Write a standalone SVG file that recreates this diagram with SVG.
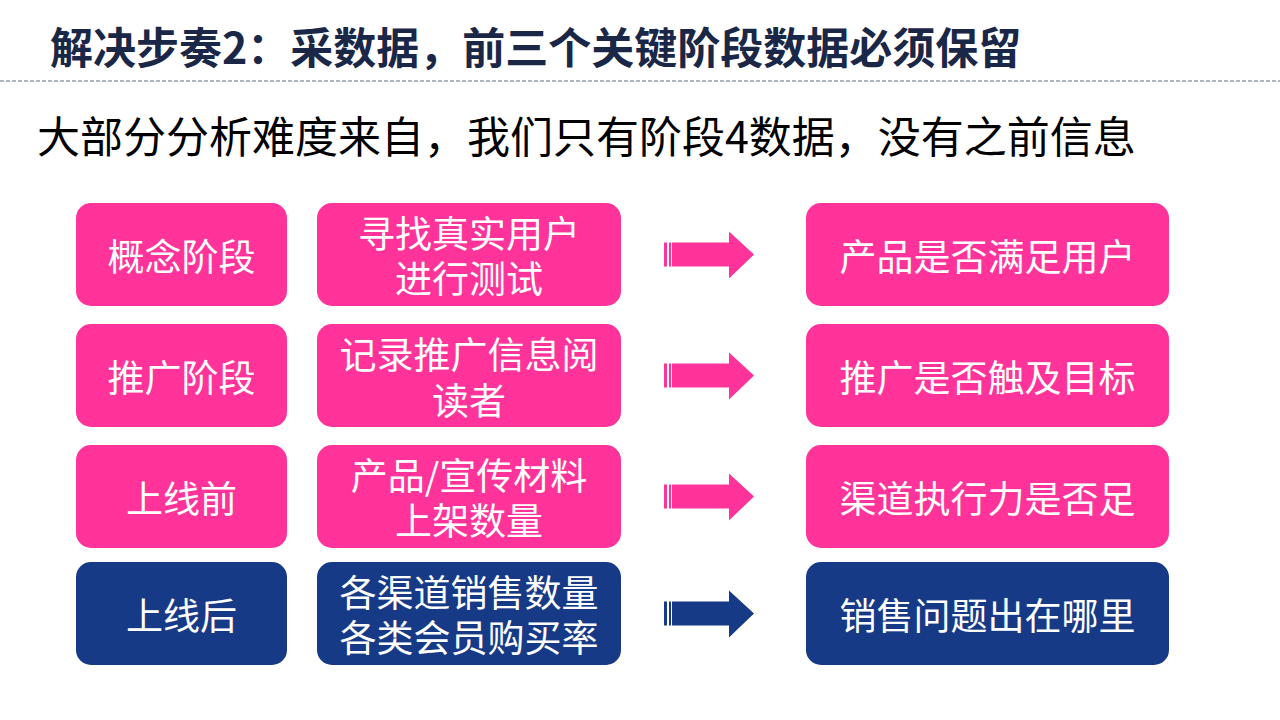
<svg xmlns="http://www.w3.org/2000/svg" width="1280" height="720" viewBox="0 0 1280 720">
<style>
text{font-family:"Noto Sans CJK SC","Noto Sans",sans-serif;}
.title{font-size:43px;font-weight:bold;fill:#1a2747;}
.sub{font-size:43px;fill:#000;}
.pk{fill:#ff3399;}
.nv{fill:#173a87;}
.lbl{font-size:37px;fill:#fff;text-anchor:middle;dominant-baseline:central;}
</style>
<rect width="1280" height="720" fill="#fff"/>
<text class="title" x="50" y="64">解决步奏2：采数据，前三个关键阶段数据必须保留</text>
<line x1="0" y1="81" x2="1280" y2="81" stroke="#5a6a80" stroke-width="1" stroke-dasharray="4 2"/>
<text class="sub" x="37" y="153">大部分分析难度来自，我们只有阶段4数据，没有之前信息</text>

<g id="r1-stage"><rect class="pk" x="76" y="203" width="211" height="103" rx="15"/><text class="lbl" x="181.5" y="254.5">概念阶段</text></g>
<g id="r1-data"><rect class="pk" x="317" y="203" width="304" height="103" rx="15"/><text class="lbl" x="469" y="232">寻找真实用户</text><text class="lbl" x="469" y="277">进行测试</text></g>
<g id="r1-goal"><rect class="pk" x="806" y="203" width="363" height="103" rx="15"/><text class="lbl" x="987.5" y="254.5">产品是否满足用户</text></g>

<g id="r2-stage"><rect class="pk" x="76" y="324" width="211" height="103" rx="15"/><text class="lbl" x="181.5" y="375.5">推广阶段</text></g>
<g id="r2-data"><rect class="pk" x="317" y="324" width="304" height="103" rx="15"/><text class="lbl" x="469" y="353">记录推广信息阅</text><text class="lbl" x="469" y="399">读者</text></g>
<g id="r2-goal"><rect class="pk" x="806" y="324" width="363" height="103" rx="15"/><text class="lbl" x="987.5" y="375.5">推广是否触及目标</text></g>

<g id="r3-stage"><rect class="pk" x="76" y="445" width="211" height="103" rx="15"/><text class="lbl" x="181.5" y="496.5">上线前</text></g>
<g id="r3-data"><rect class="pk" x="317" y="445" width="304" height="103" rx="15"/><text class="lbl" x="469" y="474">产品/宣传材料</text><text class="lbl" x="469" y="519">上架数量</text></g>
<g id="r3-goal"><rect class="pk" x="806" y="445" width="363" height="103" rx="15"/><text class="lbl" x="987.5" y="496.5">渠道执行力是否足</text></g>

<g id="r4-stage"><rect class="nv" x="76" y="562" width="211" height="103" rx="15"/><text class="lbl" x="181.5" y="613.5">上线后</text></g>
<g id="r4-data"><rect class="nv" x="317" y="562" width="304" height="103" rx="15"/><text class="lbl" x="469" y="591">各渠道销售数量</text><text class="lbl" x="469" y="636">各类会员购买率</text></g>
<g id="r4-goal"><rect class="nv" x="806" y="562" width="363" height="103" rx="15"/><text class="lbl" x="987.5" y="613.5">销售问题出在哪里</text></g>

<defs>
<g id="arr">
<rect x="664" y="-12" width="3" height="24"/>
<rect x="669" y="-12" width="2" height="24"/>
<polygon points="672,-12 729,-12 729,-23 754,0 729,24 729,12 672,12"/>
</g>
</defs>
<g id="connectors">
<use href="#arr" class="pk" transform="translate(0,254.5)"/>
<use href="#arr" class="pk" transform="translate(0,375.5)"/>
<use href="#arr" class="pk" transform="translate(0,496.5)"/>
<use href="#arr" class="nv" transform="translate(0,613.5)"/>
</g>
</svg>
